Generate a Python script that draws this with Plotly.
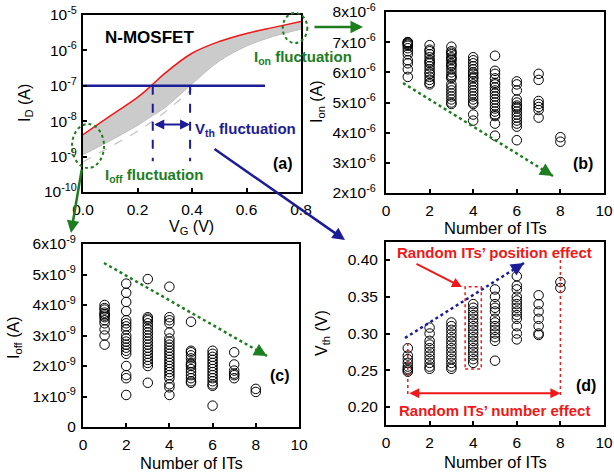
import plotly.graph_objects as go

W, H = 614, 475
FONT = "Liberation Sans, Arial, Helvetica, sans-serif"
GREEN = "#1e7d1e"
NAVY = "#1c1c96"
RED = "#f01818"

# ---------------- Panel (a): ID-VG ----------------
vg = [0.0, 0.1, 0.2, 0.25, 0.3, 0.4, 0.5, 0.6, 0.7, 0.8]
id_nominal = [4.17e-9, 1.41e-8, 4.68e-8, 1.0e-7, 2.24e-7, 8.3e-7, 1.78e-6, 3.02e-6, 4.47e-6, 6.6e-6]
id_lower = [1.12e-9, 2.82e-9, 7.6e-9, 1.35e-8, 2.4e-8, 1.12e-7, 5.0e-7, 1.32e-6, 2.5e-6, 3.98e-6]
vg_tail = [0.0, 0.1, 0.2, 0.3, 0.4]
id_tail = [7.1e-10, 1.9e-9, 5.2e-9, 1.78e-8, 8.3e-8]
vth_line_x = [0.0, 0.668]
id_vth = 1e-7
vth_min, vth_max = 0.256, 0.393
id_dash_bottom = 7.4e-10

# ---------------- Panel (b): Ion vs number of ITs (x1e-6 A) ----------------
ion = {
    1: [7.0, 7.0, 6.98, 6.95, 6.92, 6.88, 6.8, 6.7, 6.6, 6.4, 6.3, 6.1, 5.85],
    2: [6.9, 6.75, 6.7, 6.6, 6.5, 6.4, 6.35, 6.3, 6.2, 6.1, 6.0, 5.95, 5.85, 5.75, 5.65, 5.6],
    3: [6.85, 6.7, 6.65, 6.6, 6.5, 6.45, 6.4, 6.3, 6.25, 6.2, 6.1, 6.0, 5.9, 5.85, 5.8, 5.6,
        5.5, 5.4, 5.3, 5.2, 5.1, 5.0, 4.95],
    4: [6.5, 6.4, 6.3, 6.2, 6.1, 6.0, 5.95, 5.85, 5.8, 5.7, 5.6, 5.5, 5.4, 5.3, 5.2, 5.1,
        5.0, 4.95, 4.6, 4.4],
    5: [6.55, 6.05, 5.95, 5.8, 5.65, 5.6, 5.5, 5.4, 5.3, 5.2, 5.1, 5.0, 4.9, 4.8, 4.7, 4.6,
        4.55, 4.3, 3.9],
    6: [5.7, 5.6, 5.4, 5.1, 5.0, 4.9, 4.85, 4.8, 4.7, 4.6, 4.5, 4.4, 4.3, 4.2, 3.75],
    7: [5.95, 5.75, 5.05, 4.95, 4.85, 4.75, 4.5],
    8: [3.85, 3.7],
}

# ---------------- Panel (c): Ioff vs number of ITs (x1e-9 A) ----------------
ioff = {
    1: [4.0, 3.9, 3.85, 3.75, 3.7, 3.65, 3.6, 3.5, 3.4, 3.2, 3.0, 2.7],
    2: [4.7, 4.4, 4.1, 3.8, 3.5, 3.4, 3.3, 3.2, 3.0, 2.9, 2.8, 2.7, 2.6, 2.5, 2.4, 2.0,
        1.7, 1.6, 1.05],
    3: [4.85, 3.6, 3.55, 3.5, 3.4, 3.3, 3.2, 3.1, 3.0, 2.9, 2.8, 2.7, 2.6, 2.5, 2.4, 2.3,
        2.2, 2.1, 2.0, 1.45],
    4: [4.6, 3.6, 3.5, 3.4, 3.1, 2.9, 2.8, 2.7, 2.6, 2.5, 2.4, 2.3, 2.2, 2.1, 2.0, 1.9,
        1.8, 1.7, 1.6, 1.4, 1.3, 1.05],
    5: [3.45, 2.5, 2.45, 2.35, 2.25, 2.1, 2.05, 2.0, 1.9, 1.8, 1.7, 1.6, 1.5, 1.45],
    6: [2.5, 2.4, 2.3, 2.2, 2.1, 2.0, 1.9, 1.8, 1.7, 1.6, 1.5, 1.4, 1.35, 0.7],
    7: [2.45, 2.05, 1.85, 1.75, 1.7, 1.6],
    8: [1.25, 1.15],
}

# ---------------- Panel (d): Vth vs number of ITs (V) ----------------
vth = {
    1: [0.28, 0.27, 0.265, 0.26, 0.255, 0.252, 0.25, 0.248],
    2: [0.308, 0.30, 0.29, 0.285, 0.28, 0.275, 0.27, 0.265, 0.26, 0.255, 0.252],
    3: [0.315, 0.31, 0.305, 0.30, 0.295, 0.29, 0.285, 0.28, 0.275, 0.27, 0.265, 0.26,
        0.255, 0.252],
    4: [0.34, 0.335, 0.33, 0.325, 0.32, 0.315, 0.31, 0.305, 0.30, 0.295, 0.29, 0.285,
        0.28, 0.275, 0.27, 0.265, 0.26],
    5: [0.36, 0.35, 0.34, 0.335, 0.33, 0.32, 0.315, 0.31, 0.305, 0.30, 0.295, 0.29, 0.263],
    6: [0.378, 0.365, 0.36, 0.35, 0.345, 0.34, 0.335, 0.33, 0.325, 0.32, 0.31, 0.30, 0.292],
    7: [0.352, 0.34, 0.33, 0.32, 0.31, 0.30, 0.298],
    8: [0.37, 0.362],
}

num_ticks = [0, 2, 4, 6, 8, 10]
a_xticks = [0.0, 0.2, 0.4, 0.6, 0.8]
a_yticks = [1e-10, 1e-9, 1e-8, 1e-7, 1e-6, 1e-5]
a_yticktext = ["10<sup>-10</sup>", "10<sup>-9</sup>", "10<sup>-8</sup>", "10<sup>-7</sup>",
               "10<sup>-6</sup>", "10<sup>-5</sup>"]
b_yticks = [2, 3, 4, 5, 6, 7, 8]
b_yticktext = [f"{v}x10<sup>-6</sup>" for v in b_yticks]
c_yticks = [0, 1, 2, 3, 4, 5, 6]
c_yticktext = ["0"] + [f"{v}x10<sup>-9</sup>" for v in c_yticks[1:]]
d_yticks = [0.20, 0.25, 0.30, 0.35, 0.40]
d_yticktext = ["0.20", "0.25", "0.30", "0.35", "0.40"]


def px(x, y):
    return x / W, 1 - y / H


def flat(d):
    xs, ys = [], []
    for k, vals in d.items():
        xs += [k] * len(vals)
        ys += vals
    return xs, ys


fig = go.Figure()

# panel a traces
fig.add_trace(go.Scatter(x=vg, y=id_nominal, mode="lines", line=dict(color="#c8c8c8", width=0.5, shape="spline"),
                         xaxis="x", yaxis="y", showlegend=False))
fig.add_trace(go.Scatter(x=vg, y=id_lower, mode="lines", line=dict(color="#c0c0c0", width=1, shape="spline"),
                         fill="tonexty", fillcolor="#cbcbcb", xaxis="x", yaxis="y", showlegend=False))
fig.add_trace(go.Scatter(x=vg_tail, y=id_tail, mode="lines",
                         line=dict(color="#c4c4c4", width=1.2, dash="dash", shape="spline"),
                         xaxis="x", yaxis="y", showlegend=False))
fig.add_trace(go.Scatter(x=vg, y=id_nominal, mode="lines", line=dict(color=RED, width=1.5, shape="spline"),
                         xaxis="x", yaxis="y", showlegend=False))
fig.add_trace(go.Scatter(x=vth_line_x, y=[id_vth, id_vth], mode="lines", line=dict(color=NAVY, width=2.5),
                         xaxis="x", yaxis="y", showlegend=False))
for v in (vth_min, vth_max):
    fig.add_trace(go.Scatter(x=[v, v], y=[id_vth, id_dash_bottom], mode="lines",
                             line=dict(color=NAVY, width=2, dash="dash"),
                             xaxis="x", yaxis="y", showlegend=False))

mk = dict(symbol="circle-open", size=9.5, color="black", line=dict(width=1, color="black"))
for d, xa, ya in ((ion, "x2", "y2"), (ioff, "x3", "y3"), (vth, "x4", "y4")):
    xs, ys = flat(d)
    fig.add_trace(go.Scatter(x=xs, y=ys, mode="markers", marker=mk, xaxis=xa, yaxis=ya, showlegend=False))

ax_style = dict(showline=True, linecolor="black", linewidth=2, mirror=True, ticks="inside", ticklen=4,
                tickwidth=1.5, tickcolor="black", showgrid=False, zeroline=False, automargin=False,
                tickfont=dict(size=15.5, color="black", family=FONT))

xa_dom = [83 / W, 301 / W]
xb_dom = [386 / W, 604 / W]
fig.update_layout(
    width=W, height=H, margin=dict(l=0, r=0, t=0, b=0, autoexpand=False),
    paper_bgcolor="white", plot_bgcolor="white", showlegend=False,
    font=dict(family=FONT, color="black"),
    xaxis=dict(domain=xa_dom, anchor="y", range=[0, 0.8], tickvals=a_xticks, ticklabelstandoff=2,
               ticktext=[f"{v:.1f}" for v in a_xticks], **ax_style),
    yaxis=dict(domain=[1 - 192 / H, 1 - 15 / H], anchor="x", type="log", range=[-10, -5],
               ticklabelstandoff=1, tickvals=a_yticks, ticktext=a_yticktext, **ax_style),
    xaxis2=dict(domain=xb_dom, anchor="y2", range=[0, 10], tickvals=num_ticks, ticklabelstandoff=2,
                **ax_style),
    yaxis2=dict(domain=[1 - 193 / H, 1 - 12 / H], anchor="x2", range=[2, 8], ticklabelstandoff=5,
                tickvals=b_yticks, ticktext=b_yticktext, **ax_style),
    xaxis3=dict(domain=[83 / W, 299 / W], anchor="y3", range=[0, 10], tickvals=num_ticks,
                ticklabelstandoff=2, **ax_style),
    yaxis3=dict(domain=[1 - 427 / H, 1 - 244 / H], anchor="x3", range=[0, 6], ticklabelstandoff=2,
                tickvals=c_yticks, ticktext=c_yticktext, **ax_style),
    xaxis4=dict(domain=xb_dom, anchor="y4", range=[0, 10], tickvals=num_ticks, ticklabelstandoff=2,
                **ax_style),
    yaxis4=dict(domain=[1 - 425 / H, 1 - 242 / H], anchor="x4", range=[0.1755, 0.4245],
                ticklabelstandoff=3, tickvals=d_yticks, ticktext=d_yticktext, **ax_style),
)

ann = []
shapes = []


def text_px(x, y, t, size=16, color="black", bold=False, xanchor="center", angle=0):
    xx, yy = px(x, y)
    if bold:
        t = f"<b>{t}</b>"
    ann.append(dict(x=xx, y=yy, xref="paper", yref="paper", text=t, showarrow=False,
                    font=dict(size=size, color=color, family=FONT), xanchor=xanchor,
                    yanchor="middle", textangle=angle))


def arrow_px(x0, y0, x1, y1, color, width=2, head=2, size=1.0, both=False):
    hx, hy = px(x1, y1)
    a = dict(x=hx, y=hy, xref="paper", yref="paper", ax=x0 - x1, ay=y0 - y1, text="",
             showarrow=True, arrowhead=head, arrowsize=size, arrowwidth=width, arrowcolor=color,
             standoff=0, startstandoff=0)
    if both:
        a.update(arrowside="end+start", startarrowhead=head, startarrowsize=size)
    ann.append(a)


def dotted_arrow_px(x0, y0, x1, y1, color, width=2.5):
    a0, b0 = px(x0, y0)
    a1, b1 = px(x1, y1)
    shapes.append(dict(type="line", xref="paper", yref="paper", x0=a0, y0=b0, x1=a1, y1=b1,
                       line=dict(color=color, width=width, dash="dot")))
    L = ((x1 - x0) ** 2 + (y1 - y0) ** 2) ** 0.5
    ux, uy = (x1 - x0) / L, (y1 - y0) / L
    arrow_px(x1 - 10 * ux, y1 - 10 * uy, x1, y1, color, width=2, head=2, size=1.3)


# axis titles
text_px(25, 103, "I<sub>D</sub> (A)", angle=-90)
text_px(191, 227, "V<sub>G</sub> (V)")
text_px(318, 102, "I<sub>on</sub> (A)", angle=-90)
text_px(495, 228, "Number of ITs", size=16.5)
text_px(14, 338, "I<sub>off</sub> (A)", angle=-90)
text_px(191, 463, "Number of ITs", size=16.5)
text_px(322, 333, "V<sub>th</sub> (V)", angle=-90)
text_px(495, 462, "Number of ITs", size=16.5)

# panel a texts
text_px(103, 38, "N-MOSFET", size=17, bold=True, xanchor="left")
text_px(252, 57, "I<sub>on</sub> fluctuation", size=15, color=GREEN, bold=True, xanchor="left")
text_px(193, 130, "V<sub>th</sub> fluctuation", size=15, color=NAVY, bold=True, xanchor="left")
text_px(103, 175, "I<sub>off</sub> fluctuation", size=15, color=GREEN, bold=True, xanchor="left")
text_px(283, 163, "(a)", size=16, bold=True)
text_px(583, 163, "(b)", size=16, bold=True)
text_px(280, 375, "(c)", size=16, bold=True)
text_px(586, 385, "(d)", size=16, bold=True)

# Vth double arrow in panel a (pixel positions)
ya_px = 15 + (-5 - (-8.09)) / 5 * 177
arrow_px(83 + vth_min / 0.8 * 218, ya_px, 83 + vth_max / 0.8 * 218, ya_px, NAVY, width=2, head=2,
         size=1.0, both=True)

# ellipses
for (x0, y0, x1, y1) in ((72, 124, 104, 168), (282.7, 13, 307.3, 43)):
    a0, b0 = px(x0, y0)
    a1, b1 = px(x1, y1)
    shapes.append(dict(type="circle", xref="paper", yref="paper", x0=a0, y0=b0, x1=a1, y1=b1,
                       line=dict(color=GREEN, width=2, dash="dot")))

# cross-panel arrows
arrow_px(313, 27, 363, 27, GREEN, width=2.5, head=2, size=1.0)
arrow_px(82, 168, 71, 233, GREEN, width=2.5, head=2, size=1.0)
arrow_px(213, 148, 345, 240, NAVY, width=2.5, head=2, size=1.0)

# trend arrows
dotted_arrow_px(403, 83, 553, 176, GREEN)
dotted_arrow_px(104, 263, 267, 356, GREEN)
dotted_arrow_px(405, 338, 524, 263, NAVY)

# panel d red annotations (data coords)
shapes.append(dict(type="rect", xref="x4", yref="y4", x0=3.63, x1=4.37, y0=0.2517, y1=0.3636,
                   line=dict(color=RED, width=1.5, dash="dot")))
shapes.append(dict(type="line", xref="x4", yref="y4", x0=1, x1=1, y0=0.287, y1=0.2163,
                   line=dict(color=RED, width=1.5, dash="dot")))
shapes.append(dict(type="line", xref="x4", yref="y4", x0=8, x1=8, y0=0.40, y1=0.2145,
                   line=dict(color=RED, width=1.5, dash="dot")))
ann.append(dict(x=8, y=0.2187, xref="x4", yref="y4", ax=1, ay=0.2187, axref="x4", ayref="y4",
                text="", showarrow=True, arrowhead=2, arrowsize=1, arrowwidth=2, arrowcolor=RED,
                arrowside="end+start", startarrowhead=2, startarrowsize=1, standoff=0, startstandoff=0))
text_px(494, 252, "Random ITs\u2019 position effect", size=15, color=RED, bold=True)
text_px(494, 410, "Random ITs\u2019 number effect", size=15, color=RED, bold=True)
arrow_px(415, 263, 462, 287, RED, width=2, head=2, size=1.0)

fig.update_layout(annotations=ann, shapes=shapes)
fig.write_html("out.html")
